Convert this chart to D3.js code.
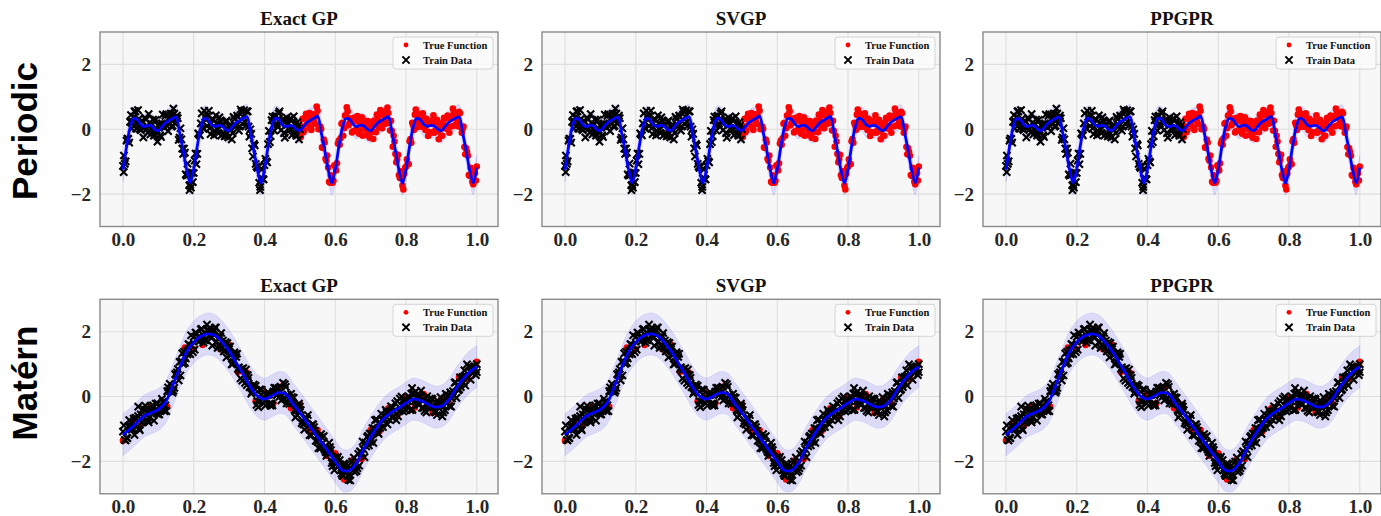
<!DOCTYPE html>
<html>
<head>
<meta charset="utf-8">
<script src="https://cdn.jsdelivr.net/npm/d3@7"></script>
<style>
  body { margin: 0; background: #fff; }
  .tick text { font-family: 'Liberation Serif', 'Times New Roman', serif; font-weight: bold; font-size: 19px; fill: #262626; }
  .title { font-family: 'Liberation Serif', 'Times New Roman', serif; font-weight: bold; font-size: 19px; fill: #111; }
  .legendText { font-family: 'Liberation Serif', 'Times New Roman', serif; font-weight: bold; font-size: 10.5px; fill: #111; }
  .rowLabel { font-family: 'Liberation Sans', Arial, sans-serif; font-weight: bold; font-size: 35px; fill: #000; }
</style>
</head>
<body>
<svg id="chart" width="1381" height="516"></svg>
<script>
const methods = ['Exact GP', 'SVGP', 'PPGPR']
const kernels = ['Periodic', 'Matérn']
const legendLabels = ['True Function', 'Train Data']
const xTicks = [0, 0.2, 0.4, 0.6, 0.8, 1.0]
const yTicks = [-2, 0, 2]

// posterior mean, periodic kernel
const periodicMean = [[0,-1.25],[0.01,-0.55],[0.02,0.05],[0.03,0.33],[0.04,0.30],[0.05,0.15],[0.06,0.08],[0.07,0.12],[0.08,0.11],[0.09,0.00],
  [0.10,-0.05],[0.11,0.08],[0.12,0.20],[0.13,0.27],[0.14,0.33],[0.15,0.38],[0.16,-0.10],[0.17,-0.65],[0.18,-1.25],[0.19,-1.65],
  [0.20,-1.22],[0.21,-0.52],[0.22,0.06],[0.23,0.34],[0.24,0.30],[0.25,0.14],[0.26,0.09],[0.27,0.12],[0.28,0.10],[0.29,-0.01],
  [0.30,-0.04],[0.31,0.09],[0.32,0.21],[0.33,0.27],[0.34,0.34],[0.35,0.39],[0.36,-0.08],[0.37,-0.66],[0.38,-1.26],[0.39,-1.66],
  [0.40,-1.23],[0.41,-0.54],[0.42,0.05],[0.43,0.34],[0.44,0.31],[0.45,0.15],[0.46,0.08],[0.47,0.11],[0.48,0.10],[0.49,0.00],
  [0.50,-0.04],[0.51,0.08],[0.52,0.21],[0.53,0.28],[0.54,0.34],[0.55,0.40],[0.56,-0.08],[0.57,-0.64],[0.58,-1.24],[0.59,-1.66],
  [0.60,-1.24],[0.61,-0.55],[0.62,0.04],[0.63,0.33],[0.64,0.31],[0.65,0.16],[0.66,0.08],[0.67,0.12],[0.68,0.11],[0.69,0.01],
  [0.70,-0.05],[0.71,0.07],[0.72,0.20],[0.73,0.27],[0.74,0.33],[0.75,0.39],[0.76,-0.09],[0.77,-0.65],[0.78,-1.25],[0.79,-1.67],
  [0.80,-1.23],[0.81,-0.53],[0.82,0.05],[0.83,0.34],[0.84,0.30],[0.85,0.15],[0.86,0.09],[0.87,0.12],[0.88,0.10],[0.89,0.00],
  [0.90,-0.05],[0.91,0.08],[0.92,0.20],[0.93,0.28],[0.94,0.34],[0.95,0.38],[0.96,-0.10],[0.97,-0.66],[0.98,-1.26],[0.99,-1.65],
  [1.00,-1.18]]

const periodicTrain = [[0.000,-1.13],[0.005,-1.07],[0.010,-0.35],[0.015,-0.30],[0.020,0.23],[0.025,0.02],[0.030,0.38],[0.035,0.55],[0.040,0.18],[0.045,0.32],
  [0.050,-0.03],[0.055,0.25],[0.060,0.03],[0.065,0.30],[0.070,-0.10],[0.075,0.20],[0.080,0.01],[0.085,0.30],[0.090,-0.15],[0.095,-0.02],
  [0.100,0.11],[0.105,-0.19],[0.110,0.18],[0.115,0.08],[0.120,0.41],[0.125,0.10],[0.130,0.31],[0.135,0.48],[0.140,0.11],[0.145,0.48],
  [0.150,0.35],[0.155,0.34],[0.160,-0.26],[0.165,-0.31],[0.170,-0.76],[0.175,-0.72],[0.180,-1.43],[0.185,-1.41],[0.190,-1.72],[0.195,-1.34],
  [0.200,-1.35],[0.205,-0.75],[0.210,-0.76],[0.215,-0.16],[0.220,0.18],[0.225,0.06],[0.230,0.57],[0.235,0.29],[0.240,0.41],[0.245,0.03],
  [0.250,0.18],[0.255,0.30],[0.260,-0.05],[0.265,0.19],[0.270,-0.12],[0.275,0.27],[0.280,0.12],[0.285,-0.12],[0.290,0.22],[0.295,-0.12],
  [0.300,0.07],[0.305,-0.01],[0.310,-0.12],[0.315,0.32],[0.320,0.11],[0.325,0.38],[0.330,0.09],[0.335,0.55],[0.340,0.38],[0.345,0.22],
  [0.350,0.55],[0.355,0.08],[0.360,0.00],[0.365,-0.59],[0.370,-0.45],[0.375,-1.07],[0.380,-1.19],[0.385,-1.65],[0.390,-1.52],[0.395,-1.53],
  [0.400,-1.11],[0.405,-0.99],[0.410,-0.46],[0.415,-0.40],[0.420,0.28],[0.425,0.11],[0.430,0.40],[0.435,0.17],[0.440,0.49],[0.445,0.19],
  [0.450,0.27],[0.455,-0.12],[0.460,0.26],[0.465,0.14],[0.470,-0.02],[0.475,0.33],[0.480,0.05],[0.485,0.15],[0.490,-0.20],[0.495,0.12],
  [0.500,0.00],[0.188,-1.88],[0.192,-1.80],[0.388,-1.78],[0.002,-1.32]]

const periodicTrainB = [[0.0025,-0.81],[0.0075,-0.99],[0.0125,-0.29],[0.0175,-0.41],[0.0225,0.44],[0.0275,0.23],[0.0325,0.55],[0.0375,0.02],[0.0425,0.59],[0.0475,0.01],
  [0.0525,0.25],[0.0575,-0.25],[0.0625,0.35],[0.0675,0.01],[0.0725,0.47],[0.0775,-0.16],[0.0825,0.14],[0.0875,-0.20],[0.0925,0.29],[0.0975,-0.38],
  [0.1025,0.16],[0.1075,-0.24],[0.1125,0.45],[0.1175,0.05],[0.1225,0.47],[0.1275,-0.06],[0.1325,0.37],[0.1375,0.08],[0.1425,0.64],[0.1475,0.17],
  [0.1525,0.42],[0.1575,-0.33],[0.1625,0.03],[0.1675,-0.60],[0.1725,-0.60],[0.1775,-1.39],[0.1825,-1.06],[0.1875,-1.73],[0.1925,-1.34],[0.1975,-1.63],
  [0.2025,-0.97],[0.2075,-1.08],[0.2125,-0.13],[0.2175,-0.19],[0.2225,0.49],[0.2275,0.01],[0.2325,0.39],[0.2375,0.10],[0.2425,0.57],[0.2475,-0.15],
  [0.2525,0.31],[0.2575,-0.19],[0.2625,0.43],[0.2675,-0.01],[0.2725,0.37],[0.2775,-0.20],[0.2825,0.16],[0.2875,-0.22],[0.2925,0.27],[0.2975,-0.25],
  [0.3025,0.13],[0.3075,-0.31],[0.3125,0.38],[0.3175,0.09],[0.3225,0.42],[0.3275,-0.04],[0.3325,0.61],[0.3375,0.17],[0.3425,0.58],[0.3475,0.11],
  [0.3525,0.55],[0.3575,-0.23],[0.3625,-0.14],[0.3675,-0.84],[0.3725,-0.50],[0.3775,-1.15],[0.3825,-1.16],[0.3875,-1.88],[0.3925,-1.24],[0.3975,-1.55],
  [0.4025,-0.91],[0.4075,-1.02],[0.4125,-0.05],[0.4175,-0.21],[0.4225,0.39],[0.4275,-0.04],[0.4325,0.41],[0.4375,0.08],[0.4425,0.55],[0.4475,-0.02],
  [0.4525,0.28],[0.4575,-0.26],[0.4625,0.36],[0.4675,0.03],[0.4725,0.32],[0.4775,-0.18],[0.4825,0.40],[0.4875,-0.13],[0.4925,0.21],[0.4975,-0.31]]

const periodicTrue = [[0.505,0.09],[0.510,-0.09],[0.515,0.35],[0.520,0.15],[0.525,0.37],[0.530,0.05],[0.535,0.46],[0.540,0.24],[0.545,0.40],[0.550,0.57],
  [0.555,0.01],[0.560,0.01],[0.565,-0.58],[0.570,-0.41],[0.575,-0.97],[0.580,-1.18],[0.585,-1.65],[0.590,-1.47],[0.595,-1.59],[0.600,-1.16],
  [0.605,-1.05],[0.610,-0.35],[0.615,-0.28],[0.620,0.20],[0.625,0.03],[0.630,0.42],[0.635,0.55],[0.640,0.18],[0.645,0.25],[0.650,-0.06],
  [0.655,0.27],[0.660,0.00],[0.665,0.23],[0.670,-0.04],[0.675,0.37],[0.680,0.07],[0.685,0.15],[0.690,-0.18],[0.695,0.02],[0.700,0.09],
  [0.705,-0.09],[0.710,0.27],[0.715,-0.09],[0.720,0.28],[0.725,0.22],[0.730,0.43],[0.735,0.16],[0.740,0.54],[0.745,0.29],[0.750,0.50],
  [0.755,-0.04],[0.760,-0.05],[0.765,-0.20],[0.770,-0.76],[0.775,-0.93],[0.780,-1.41],[0.785,-1.30],[0.790,-1.74],[0.795,-1.37],[0.800,-1.15],
  [0.805,-1.06],[0.810,-0.37],[0.815,-0.42],[0.820,0.12],[0.825,0.45],[0.830,0.23],[0.835,0.48],[0.840,0.13],[0.845,0.24],[0.850,0.35],
  [0.855,-0.02],[0.860,0.17],[0.865,-0.09],[0.870,0.26],[0.875,0.16],[0.880,-0.11],[0.885,0.22],[0.890,-0.06],[0.895,0.08],[0.900,-0.20],
  [0.905,0.22],[0.910,0.05],[0.915,0.33],[0.920,0.07],[0.925,0.32],[0.930,0.09],[0.935,0.54],[0.940,0.34],[0.945,0.24],[0.950,0.54],
  [0.955,0.07],[0.960,0.01],[0.965,-0.55],[0.970,-0.59],[0.975,-0.82],[0.980,-1.44],[0.985,-1.41],[0.990,-1.70],[0.995,-1.36],[1.000,-1.15]]

const periodicTrueB = [[0.5025,-0.24],[0.5075,0.32],[0.5125,-0.03],[0.5175,0.48],[0.5225,0.16],[0.5275,0.50],[0.5325,-0.02],[0.5375,0.45],[0.5425,0.16],[0.5475,0.70],
  [0.5525,0.00],[0.5575,0.08],[0.5625,-0.56],[0.5675,-0.32],[0.5725,-0.91],[0.5775,-0.81],[0.5825,-1.62],[0.5875,-1.42],[0.5925,-1.65],[0.5975,-1.11],
  [0.6025,-1.27],[0.6075,-0.44],[0.6125,-0.48],[0.6175,0.17],[0.6225,-0.20],[0.6275,0.42],[0.6325,0.68],[0.6375,0.12],[0.6425,0.33],[0.6475,-0.10],
  [0.6525,0.35],[0.6575,-0.04],[0.6625,0.41],[0.6675,-0.14],[0.6725,0.22],[0.6775,-0.20],[0.6825,0.27],[0.6875,-0.02],[0.6925,0.25],[0.6975,-0.26],
  [0.7025,0.14],[0.7075,-0.30],[0.7125,0.20],[0.7175,0.45],[0.7225,0.07],[0.7275,0.59],[0.7325,0.03],[0.7375,0.44],[0.7425,0.17],[0.7475,0.67],
  [0.7525,0.20],[0.7575,0.26],[0.7625,-0.54],[0.7675,-0.38],[0.7725,-1.02],[0.7775,-0.79],[0.7825,-1.50],[0.7875,-1.32],[0.7925,-1.86],[0.7975,-1.19],
  [0.8025,-0.93],[0.8075,-1.08],[0.8125,-0.30],[0.8175,0.20],[0.8225,-0.02],[0.8275,0.61],[0.8325,0.07],[0.8375,0.44],[0.8425,0.08],[0.8475,0.49],
  [0.8525,0.06],[0.8575,0.32],[0.8625,-0.21],[0.8675,0.25],[0.8725,-0.10],[0.8775,0.43],[0.8825,-0.04],[0.8875,0.29],[0.8925,-0.31],[0.8975,0.14],
  [0.9025,-0.20],[0.9075,0.35],[0.9125,0.02],[0.9175,0.42],[0.9225,-0.11],[0.9275,0.40],[0.9325,0.64],[0.9375,0.12],[0.9425,0.42],[0.9475,0.09],
  [0.9525,0.49],[0.9575,-0.11],[0.9625,0.08],[0.9675,-0.77],[0.9725,-0.70],[0.9775,-1.41],[0.9825,-1.19],[0.9875,-1.62],[0.9925,-1.30],[0.9975,-1.58]]

// posterior mean, Matérn kernel
const maternMean = [[0.00,-1.18],[0.02,-1.00],[0.04,-0.80],[0.06,-0.60],[0.08,-0.50],[0.10,-0.40],[0.12,-0.18],[0.14,0.32],[0.16,0.88],[0.18,1.38],
  [0.20,1.68],[0.22,1.86],[0.24,1.93],[0.26,1.88],[0.28,1.68],[0.30,1.40],[0.32,1.05],[0.34,0.68],[0.36,0.30],[0.38,0.02],
  [0.40,-0.08],[0.42,0.02],[0.44,0.12],[0.46,0.08],[0.48,-0.22],[0.50,-0.50],[0.52,-0.80],[0.54,-1.10],[0.56,-1.40],[0.58,-1.70],
  [0.60,-2.00],[0.62,-2.27],[0.64,-2.28],[0.66,-2.05],[0.68,-1.62],[0.70,-1.25],[0.72,-0.92],[0.74,-0.65],[0.76,-0.48],[0.78,-0.35],
  [0.80,-0.20],[0.82,-0.08],[0.84,-0.12],[0.86,-0.22],[0.88,-0.32],[0.90,-0.30],[0.92,-0.12],[0.94,0.22],[0.96,0.52],[0.98,0.76],
  [1.00,0.92]]

const maternTrain = [[0.00,-1.08],[0.01,-1.27],[0.02,-0.95],[0.03,-0.68],[0.04,-0.92],[0.05,-0.55],[0.06,-0.66],[0.07,-0.76],[0.08,-0.32],[0.09,-0.43],
  [0.10,-0.55],[0.11,-0.07],[0.12,-0.27],[0.13,0.17],[0.14,0.12],[0.15,0.67],[0.16,1.07],[0.17,1.01],[0.18,1.41],[0.19,1.31],
  [0.20,1.84],[0.21,1.74],[0.22,2.07],[0.23,1.74],[0.24,2.02],[0.25,1.80],[0.26,2.13],[0.27,1.77],[0.28,1.49],[0.29,1.68],
  [0.30,1.46],[0.31,1.01],[0.32,1.22],[0.33,0.79],[0.34,0.88],[0.35,0.35],[0.36,0.31],[0.37,0.37],[0.38,-0.14],[0.39,0.06],
  [0.40,-0.13],[0.41,0.14],[0.42,-0.21],[0.43,0.16],[0.44,0.26],[0.45,0.02],[0.46,0.30],[0.47,-0.23],[0.48,-0.18],[0.49,-0.43],
  [0.50,-0.31],[0.51,-0.86],[0.52,-0.68],[0.53,-0.98],[0.54,-0.94],[0.55,-1.40],[0.56,-1.16],[0.57,-1.64],[0.58,-1.64],[0.59,-2.05],
  [0.60,-1.87],[0.61,-2.13],[0.62,-2.44],[0.63,-2.09],[0.64,-2.40],[0.65,-2.10],[0.66,-2.29],[0.67,-1.69],[0.68,-1.63],[0.69,-1.25],
  [0.70,-1.39],[0.71,-0.98],[0.72,-1.11],[0.73,-0.53],[0.74,-0.71],[0.75,-0.53],[0.76,-0.64],[0.77,-0.21],[0.78,-0.46],[0.79,-0.13],
  [0.80,-0.42],[0.81,-0.06],[0.82,0.09],[0.83,-0.17],[0.84,-0.01],[0.85,-0.35],[0.86,0.01],[0.87,-0.31],[0.88,-0.45],[0.89,-0.14],
  [0.90,-0.25],[0.91,-0.42],[0.92,0.03],[0.93,-0.06],[0.94,0.44],[0.95,0.22],[0.96,0.61],[0.97,0.63],[0.98,0.92],[0.99,0.73],
  [1.00,1.00],
  [0.005,-1.34],[0.015,-0.91],[0.025,-1.02],[0.035,-0.66],[0.045,-0.99],[0.055,-0.62],[0.065,-0.41],[0.075,-0.65],[0.085,-0.27],[0.095,-0.52],
  [0.105,-0.30],[0.115,-0.41],[0.125,0.17],[0.135,0.17],[0.145,0.27],[0.155,0.85],[0.165,1.09],[0.175,1.04],[0.185,1.62],[0.195,1.57],
  [0.205,1.97],[0.215,1.69],[0.225,1.91],[0.235,1.74],[0.245,2.12],[0.255,1.99],[0.265,1.69],[0.275,1.86],[0.285,1.39],[0.295,1.65],
  [0.305,1.28],[0.315,1.36],[0.325,0.85],[0.335,0.85],[0.345,0.42],[0.355,0.58],[0.365,0.14],[0.375,0.33],[0.385,-0.16],[0.395,-0.06],
  [0.405,0.07],[0.415,-0.22],[0.425,0.15],[0.435,0.04],[0.445,0.31],[0.455,-0.06],[0.465,0.06],[0.475,0.08],[0.485,-0.41],[0.495,-0.28],
  [0.505,-0.82],[0.515,-0.65],[0.525,-0.91],[0.535,-0.86],[0.545,-1.37],[0.555,-1.21],[0.565,-1.43],[0.575,-1.83],[0.585,-1.56],[0.595,-2.03],
  [0.605,-1.92],[0.615,-2.28],[0.625,-2.06],[0.635,-2.44],[0.645,-2.21],[0.655,-2.33],[0.665,-1.77],[0.675,-1.77],[0.685,-1.42],[0.695,-1.51],
  [0.705,-0.97],[0.715,-1.09],[0.725,-0.79],[0.735,-0.94],[0.745,-0.47],[0.755,-0.51],[0.765,-0.63],[0.775,-0.14],[0.785,-0.42],[0.795,-0.16],
  [0.805,-0.31],[0.815,0.09],[0.825,-0.14],[0.835,0.02],[0.845,-0.35],[0.855,-0.04],[0.865,-0.27],[0.875,-0.09],[0.885,-0.46],[0.895,-0.25],
  [0.905,-0.49],[0.915,-0.07],[0.925,0.13],[0.935,0.05],[0.945,0.33],[0.955,0.29],[0.965,0.81],[0.975,0.59],[0.985,0.90],[0.995,0.83],
  [0.043,-0.31],[0.817,0.26],[0.818,-0.41],[1.00,0.75]]

const maternTrainB = [[0.0025,-0.89],[0.0125,-1.28],[0.0225,-0.90],[0.0325,-1.18],[0.0425,-0.60],[0.0525,-0.80],[0.0625,-0.28],[0.0725,-0.80],[0.0825,-0.46],[0.0925,-0.22],
  [0.1025,-0.55],[0.1125,-0.16],[0.1225,-0.45],[0.1325,0.39],[0.1425,0.18],[0.1525,0.75],[0.1625,0.65],[0.1725,1.38],[0.1825,1.30],[0.1925,1.89],
  [0.2025,1.45],[0.2125,1.83],[0.2225,2.09],[0.2325,1.75],[0.2425,2.05],[0.2525,1.57],[0.2625,2.13],[0.2725,1.55],[0.2825,1.73],[0.2925,1.21],
  [0.3025,1.54],[0.3125,1.07],[0.3225,1.32],[0.3325,0.56],[0.3425,0.66],[0.3525,0.66],[0.3625,0.09],[0.3725,0.23],[0.3825,-0.33],[0.3925,0.21],
  [0.4025,-0.28],[0.4125,0.06],[0.4225,-0.27],[0.4325,0.27],[0.4425,0.00],[0.4525,0.42],[0.4625,-0.21],[0.4725,-0.06],[0.4825,-0.04],[0.4925,-0.57],
  [0.5025,-0.42],[0.5125,-1.02],[0.5225,-0.57],[0.5325,-1.20],[0.5425,-1.06],[0.5525,-1.59],[0.5625,-1.26],[0.5725,-1.71],[0.5825,-1.43],[0.5925,-2.15],
  [0.6025,-2.01],[0.6125,-1.96],[0.6225,-2.45],[0.6325,-2.18],[0.6425,-2.59],[0.6525,-1.88],[0.6625,-2.21],[0.6725,-1.71],[0.6825,-1.87],[0.6925,-1.21],
  [0.7025,-1.33],[0.7125,-0.73],[0.7225,-1.15],[0.7325,-0.72],[0.7425,-0.41],[0.7525,-0.71],[0.7625,-0.34],[0.7725,-0.73],[0.7825,-0.06],[0.7925,-0.46],
  [0.8025,-0.10],[0.8125,-0.42],[0.8225,0.10],[0.8325,-0.22],[0.8425,0.18],[0.8525,-0.44],[0.8625,-0.20],[0.8725,-0.06],[0.8825,-0.49],[0.8925,-0.20],
  [0.9025,-0.61],[0.9125,0.08],[0.9225,-0.29],[0.9325,0.17],[0.9425,-0.04],[0.9525,0.59],[0.9625,0.43],[0.9725,0.99],[0.9825,0.52],[0.9925,0.90],
  [0.0075,-1.35],[0.0175,-0.73],[0.0275,-0.99],[0.0375,-0.67],[0.0475,-1.04],[0.0575,-0.38],[0.0675,-0.70],[0.0775,-0.42],[0.0875,-0.74],[0.0975,-0.21],
  [0.1075,-0.35],[0.1175,-0.45],[0.1275,0.28],[0.1375,0.19],[0.1475,0.69],[0.1575,0.50],[0.1675,1.33],[0.1775,1.18],[0.1875,1.60],[0.1975,1.37],
  [0.2075,1.96],[0.2175,1.82],[0.2275,1.66],[0.2375,2.22],[0.2475,1.86],[0.2575,2.05],[0.2675,1.50],[0.2775,1.96],[0.2875,1.44],[0.2975,1.53],
  [0.3075,0.99],[0.3175,1.30],[0.3275,0.90],[0.3375,0.49],[0.3475,0.83],[0.3575,0.29],[0.3675,0.34],[0.3775,-0.26],[0.3875,0.22],[0.3975,-0.21],
  [0.4075,0.04],[0.4175,-0.28],[0.4275,0.27],[0.4375,0.09],[0.4475,-0.12],[0.4575,0.38],[0.4675,-0.08],[0.4775,-0.02],[0.4875,-0.64],[0.4975,-0.22],
  [0.5075,-0.75],[0.5175,-0.67],[0.5275,-1.19],[0.5375,-0.86],[0.5475,-1.23],[0.5575,-1.60],[0.5675,-1.22],[0.5775,-1.72],[0.5875,-1.65],[0.5975,-2.27],
  [0.6075,-1.86],[0.6175,-2.38],[0.6275,-2.20],[0.6375,-2.57],[0.6475,-2.01],[0.6575,-2.10],[0.6675,-2.13],[0.6775,-1.39],[0.6875,-1.54],[0.6975,-1.14],
  [0.7075,-1.43],[0.7175,-0.71],[0.7275,-0.96],[0.7375,-0.59],[0.7475,-0.86],[0.7575,-0.30],[0.7675,-0.45],[0.7775,-0.61],[0.7875,0.00],[0.7975,-0.28],
  [0.8075,0.01],[0.8175,-0.40],[0.8275,0.16],[0.8375,-0.25],[0.8475,-0.07],[0.8575,-0.49],[0.8675,-0.06],[0.8775,-0.33],[0.8875,-0.57],[0.8975,-0.02],
  [0.9075,-0.30],[0.9175,0.02],[0.9275,-0.31],[0.9375,0.43],[0.9475,0.19],[0.9575,0.57],[0.9675,0.34],[0.9775,0.93],[0.9875,0.81],[0.9975,0.66]]

const maternTrue = [[0.000,-1.36],[0.025,-0.80],[0.050,-0.90],[0.075,-0.31],[0.100,-0.45],[0.125,-0.32],[0.150,0.72],[0.175,1.51],[0.200,1.46],[0.225,1.59],
  [0.250,2.06],[0.275,1.46],[0.300,1.60],[0.325,0.76],[0.350,0.74],[0.375,-0.14],[0.400,0.10],[0.425,-0.21],[0.450,0.32],[0.475,-0.36],
  [0.500,-0.25],[0.525,-1.06],[0.550,-1.03],[0.575,-1.83],[0.600,-1.75],[0.625,-2.56],[0.650,-1.96],[0.675,-1.93],[0.700,-1.03],[0.725,-1.07],
  [0.750,-0.36],[0.775,-0.60],[0.800,-0.02],[0.825,-0.34],[0.850,0.08],[0.875,-0.50],[0.900,-0.08],[0.925,-0.24],[0.950,0.59],[0.975,0.53],
  [1.000,1.07]]

// two-sigma half width of the predictive band, per method
const periodicBand = [0.38, 0.38, 0.38]
const maternBand = [0.65, 0.65, 0.65]

const rows = [
  { mean: periodicMean, train: periodicTrain.concat(periodicTrainB), truth: periodicTrue.concat(periodicTrueB), band: periodicBand },
  { mean: maternMean, train: maternTrain.concat(maternTrainB), truth: maternTrue, band: maternBand }
]

const dim = {
  colLeft: [100, 542, 983],
  rowTop: [32, 299.3],
  width: 398,
  height: 194.5
}

const svg = d3.select('#chart')
const xMarker = 'M-3.6,-3.6L3.6,3.6M-3.6,3.6L3.6,-3.6'

rows.forEach((rowData, r) => {
  methods.forEach((m, c) => drawPanel(rowData, r, c))
})
drawRowLabels()

function drawPanel (data, r, c) {
  const left = dim.colLeft[c]
  const top = dim.rowTop[r]
  const { width, height } = dim
  const x = d3.scaleLinear().domain([-0.065, 1.06]).range([left, left + width])
  const y = d3.scaleLinear().domain([-3, 3]).range([top + height, top])

  const clipId = `clip-${r}-${c}`
  svg.append('clipPath').attr('id', clipId)
    .append('rect')
    .attr('x', left).attr('y', top).attr('width', width).attr('height', height)

  svg.append('rect') // panel background
    .attr('x', left).attr('y', top).attr('width', width).attr('height', height)
    .attr('fill', '#f7f7f7')

  const g = svg.append('g').attr('clip-path', `url(#${clipId})`)

  // grid
  g.selectAll('.vgrid').data(xTicks).enter().append('line')
    .attr('x1', d => x(d)).attr('x2', d => x(d))
    .attr('y1', top).attr('y2', top + height)
    .attr('stroke', '#dedede').attr('stroke-width', 1.1)
  g.selectAll('.hgrid').data(yTicks).enter().append('line')
    .attr('y1', d => y(d)).attr('y2', d => y(d))
    .attr('x1', left).attr('x2', left + width)
    .attr('stroke', '#dedede').attr('stroke-width', 1.1)

  const half = data.band[c]
  const area = d3.area()
    .curve(d3.curveCatmullRom)
    .x(d => x(d[0]))
    .y0(d => y(d[1] - half))
    .y1(d => y(d[1] + half))
  g.append('path')
    .datum(data.mean)
    .attr('d', area)
    .attr('fill', '#0000ff').attr('fill-opacity', 0.11)
    .attr('stroke', '#0000ff').attr('stroke-opacity', 0.08).attr('stroke-width', 1)

  g.selectAll('.truth').data(data.truth).enter().append('circle')
    .attr('cx', d => x(d[0])).attr('cy', d => y(d[1]))
    .attr('r', 3.3).attr('fill', '#ff0000')

  g.selectAll('.train').data(data.train).enter().append('path')
    .attr('transform', d => `translate(${x(d[0])},${y(d[1])})`)
    .attr('d', xMarker)
    .attr('stroke', '#000').attr('stroke-width', 2.1)

  const line = d3.line()
    .curve(d3.curveCatmullRom)
    .x(d => x(d[0]))
    .y(d => y(d[1]))
  g.append('path')
    .datum(data.mean)
    .attr('d', line)
    .attr('fill', 'none').attr('stroke', '#0000ff').attr('stroke-width', 2.8)

  // axes
  svg.append('g')
    .attr('transform', `translate(0,${top + height})`)
    .call(d3.axisBottom(x).tickValues(xTicks).tickFormat(d3.format('.1f')).tickSize(0).tickPadding(6))
    .call(a => a.select('.domain').remove())
  svg.append('g')
    .attr('transform', `translate(${left},0)`)
    .call(d3.axisLeft(y).tickValues(yTicks).tickFormat(d3.format('d')).tickSize(0).tickPadding(9))
    .call(a => a.select('.domain').remove())

  svg.append('rect') // frame
    .attr('x', left).attr('y', top).attr('width', width).attr('height', height)
    .attr('fill', 'none').attr('stroke', '#8a8a8a').attr('stroke-width', 1.4)

  svg.append('text')
    .attr('class', 'title')
    .attr('x', left + width / 2).attr('y', top - 7.5)
    .attr('text-anchor', 'middle')
    .text(methods[c])

  drawLegend(left + width, top)
}

function drawLegend (right, top) {
  const bx = right - 105
  const lg = svg.append('g')
  lg.append('rect')
    .attr('x', bx).attr('y', top + 5).attr('width', 100).attr('height', 32)
    .attr('rx', 3)
    .attr('fill', '#fbfbfb').attr('fill-opacity', 0.85)
    .attr('stroke', '#d4d4d4').attr('stroke-width', 1)
  lg.append('circle')
    .attr('cx', bx + 13).attr('cy', top + 13).attr('r', 2.4).attr('fill', '#ff0000')
  lg.append('path')
    .attr('transform', `translate(${bx + 13},${top + 28})`)
    .attr('d', xMarker)
    .attr('stroke', '#000').attr('stroke-width', 2)
  legendLabels.forEach((t, i) => {
    lg.append('text')
      .attr('class', 'legendText')
      .attr('x', bx + 30).attr('y', top + 16.5 + i * 15)
      .text(t)
  })
}

function drawRowLabels () {
  const centers = [131, 383]
  kernels.forEach((k, i) => {
    svg.append('text')
      .attr('class', 'rowLabel')
      .attr('transform', `translate(37,${centers[i]}) rotate(-90)`)
      .attr('text-anchor', 'middle')
      .text(k)
  })
}
</script>
</body>
</html>
